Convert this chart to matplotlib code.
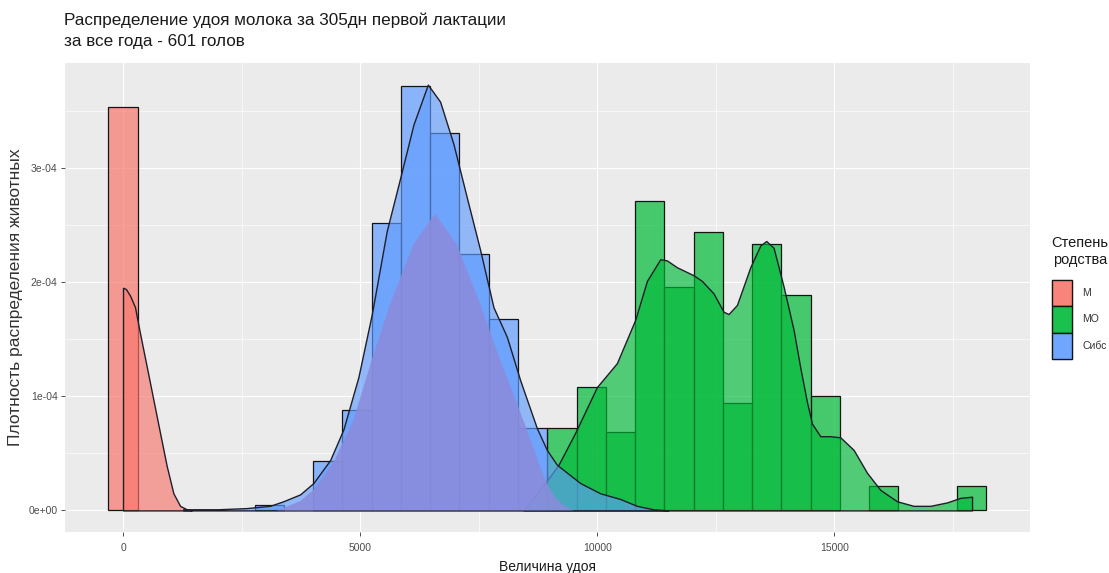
import numpy as np
import matplotlib
matplotlib.use("Agg")
import matplotlib.pyplot as plt
from matplotlib.patches import Patch
from matplotlib.legend_handler import HandlerTuple
from matplotlib.colors import to_rgba
from matplotlib.ticker import FuncFormatter, MultipleLocator

plt.rcParams["font.family"] = ["Liberation Sans", "DejaVu Sans"]

# ---- data -------------------------------------------------------------
BIN_WIDTH = 617          # histogram bin width, kg
SCALE = 1e-4             # values below are given in units of 1e-4

groups = ["М", "МО", "Сибс"]
fills = ["#F8766D", "#00BA38", "#619CFF"]

# histogram: bin index -> density
m_bins = [0]
m_heights = [3.53]
mo_bins = [15, 16, 17, 18, 19, 20, 21, 22, 23, 24, 26, 29]
mo_heights = [0.72, 1.08, 0.69, 2.71, 1.96, 2.44, 0.94, 2.33, 1.89, 1.00, 0.21, 0.21]
sibs_bins = [5, 7, 8, 9, 10, 11, 12, 13, 14]
sibs_heights = [0.046, 0.43, 0.88, 2.52, 3.72, 3.31, 2.25, 1.68, 0.72]

# kernel density curves
m_dens_x = [0, 60, 150, 253, 359, 500, 640, 780, 921, 1062, 1203, 1343, 1450]
m_dens_y = [1.95, 1.94, 1.88, 1.78, 1.55, 1.26, 0.97, 0.68, 0.39, 0.15, 0.04, 0.01, 0.0]

mo_dens_x = [8446, 8728, 8938, 9184, 9536, 9993, 10415, 10802, 11048, 11329, 11470,
             11681, 12032, 12209, 12454, 12665, 12770, 12947, 13228, 13439, 13565,
             13720, 13931, 14142, 14283, 14423, 14530, 14705, 14916, 15127, 15408,
             15689, 15970, 16322, 16673, 17025, 17377, 17658, 17905]
mo_dens_y = [0.0, 0.15, 0.26, 0.40, 0.68, 1.08, 1.29, 1.67, 2.01, 2.20, 2.19,
             2.13, 2.06, 2.01, 1.90, 1.74, 1.72, 1.80, 2.13, 2.32, 2.36,
             2.30, 1.96, 1.58, 1.25, 0.95, 0.76, 0.65, 0.65, 0.64, 0.53,
             0.33, 0.18, 0.08, 0.04, 0.04, 0.07, 0.11, 0.12]

sibs_dens_x = [1270, 2000, 2600, 3100, 3380, 3734, 4015, 4367, 4648, 4965, 5247,
               5563, 5844, 6125, 6428, 6688, 6968, 7251, 7532, 7812, 8095, 8376,
               8728, 8938, 9150, 9641, 10063, 10485, 10837, 11180, 11500]
sibs_dens_y = [0.01, 0.01, 0.02, 0.04, 0.08, 0.14, 0.24, 0.44, 0.71, 1.17, 1.72,
               2.45, 2.91, 3.38, 3.73, 3.58, 3.21, 2.74, 2.28, 1.78, 1.52, 1.14,
               0.72, 0.53, 0.40, 0.24, 0.15, 0.10, 0.04, 0.01, 0.0]

core_dens_x = [3250, 3734, 4015, 4437, 4859, 5247, 5633, 6125, 6582, 7040, 7532,
               7954, 8306, 8656, 8800, 8938, 9100, 9300, 9500]
core_dens_y = [0.0, 0.08, 0.18, 0.42, 0.79, 1.32, 1.81, 2.33, 2.60, 2.33, 1.81,
               1.32, 0.94, 0.55, 0.38, 0.24, 0.12, 0.04, 0.0]

title = "Распределение удоя молока за 305дн первой лактации\nза все года - 601 голов"
x_label = "Величина удоя"
y_label = "Плотность распределения животных"
legend_title = "Степень\nродства"
x_ticks = [0, 5000, 10000, 15000]
y_ticks = [0, 1e-4, 2e-4, 3e-4]

# ---- figure -----------------------------------------------------------
W, H = 1109, 573
fig = plt.figure(figsize=(W / 100, H / 100), dpi=100)
ax = fig.add_axes([64.5 / W, 1 - 531.7 / H, (1030 - 64.5) / W, (531.7 - 63.3) / H])
ax.set_facecolor("#EBEBEB")
for s in ax.spines.values():
    s.set_visible(False)

HIST_ALPHA = 0.7
DENS_ALPHA = 0.65

hist_data = [(m_bins, m_heights), (mo_bins, mo_heights), (sibs_bins, sibs_heights)]
for (bins, heights), col in zip(hist_data, fills):
    ax.bar(np.array(bins) * BIN_WIDTH, np.array(heights) * SCALE, width=BIN_WIDTH,
           facecolor=to_rgba(col, HIST_ALPHA), edgecolor="#141414", linewidth=0.9,
           zorder=2)

dens_data = [(m_dens_x, m_dens_y), (mo_dens_x, mo_dens_y), (sibs_dens_x, sibs_dens_y)]
for (dx, dy), col in zip(dens_data, fills):
    ax.fill_between(dx, np.array(dy) * SCALE, 0, facecolor=to_rgba(col, DENS_ALPHA),
                    edgecolor="#1f1f2a", linewidth=1.0, zorder=3)

ax.fill_between(core_dens_x, np.array(core_dens_y) * SCALE, 0,
                facecolor=to_rgba("#8B8CDB", 0.88), edgecolor="none", zorder=4)

# limits with 5% expansion
x_lo = min(m_bins) * BIN_WIDTH - BIN_WIDTH / 2
x_hi = max(mo_bins) * BIN_WIDTH + BIN_WIDTH / 2
pad = 0.05 * (x_hi - x_lo)
ax.set_xlim(x_lo - pad, x_hi + pad)
y_hi = max(max(m_heights), max(mo_heights), max(sibs_heights), max(sibs_dens_y),
           max(mo_dens_y), max(m_dens_y)) * SCALE
ax.set_ylim(-0.05 * y_hi, y_hi * 1.05)

ax.set_xticks(x_ticks)
ax.set_yticks(y_ticks)
ax.xaxis.set_minor_locator(MultipleLocator(2500))
ax.yaxis.set_minor_locator(MultipleLocator(0.5e-4))
ax.yaxis.set_major_formatter(FuncFormatter(lambda v, p: f"{v:.0e}"))
ax.grid(which="major", color="white", linewidth=0.85, zorder=0)
ax.grid(which="minor", color="white", linewidth=0.45, zorder=0)
ax.set_axisbelow(True)
ax.tick_params(which="major", length=3, width=0.6, color="#333333",
               labelcolor="#4D4D4D", labelsize=7.5)
ax.tick_params(axis="x", which="major", pad=5)
ax.tick_params(axis="y", which="major", pad=2)
ax.tick_params(which="minor", length=0)

ax.set_xlabel(x_label, fontsize=10, color="#1A1A1A", labelpad=5)
ax.set_ylabel(y_label, fontsize=12.5, color="#333333", labelpad=4)

fig.text(64.5 / W, 1 - 13 / H, title, ha="left", va="top", fontsize=12.3,
         color="#1A1A1A", linespacing=1.45)

# legend: title placed on its own, keys below it
fig.text(1080 / W, 1 - 236 / H, legend_title, ha="center", va="top",
         fontsize=10.5, color="#1A1A1A", linespacing=1.3, multialignment="center")
handles = [(Patch(facecolor=to_rgba(c, HIST_ALPHA), edgecolor="#141414", linewidth=0.9),
            Patch(facecolor=to_rgba(c, DENS_ALPHA), edgecolor="#141414", linewidth=0.9))
           for c in fills]
leg = fig.legend(handles, groups, loc="upper left",
                 bbox_to_anchor=(1052 / W, 1 - 280 / H), frameon=False,
                 handler_map={tuple: HandlerTuple(ndivide=1)},
                 fontsize=7.5, handlelength=1.9, handleheight=3.5,
                 labelspacing=0.0, handletextpad=1.0, borderpad=0,
                 borderaxespad=0)
for t in leg.get_texts():
    t.set_color("#333333")

fig.savefig("out.png", dpi=100)
